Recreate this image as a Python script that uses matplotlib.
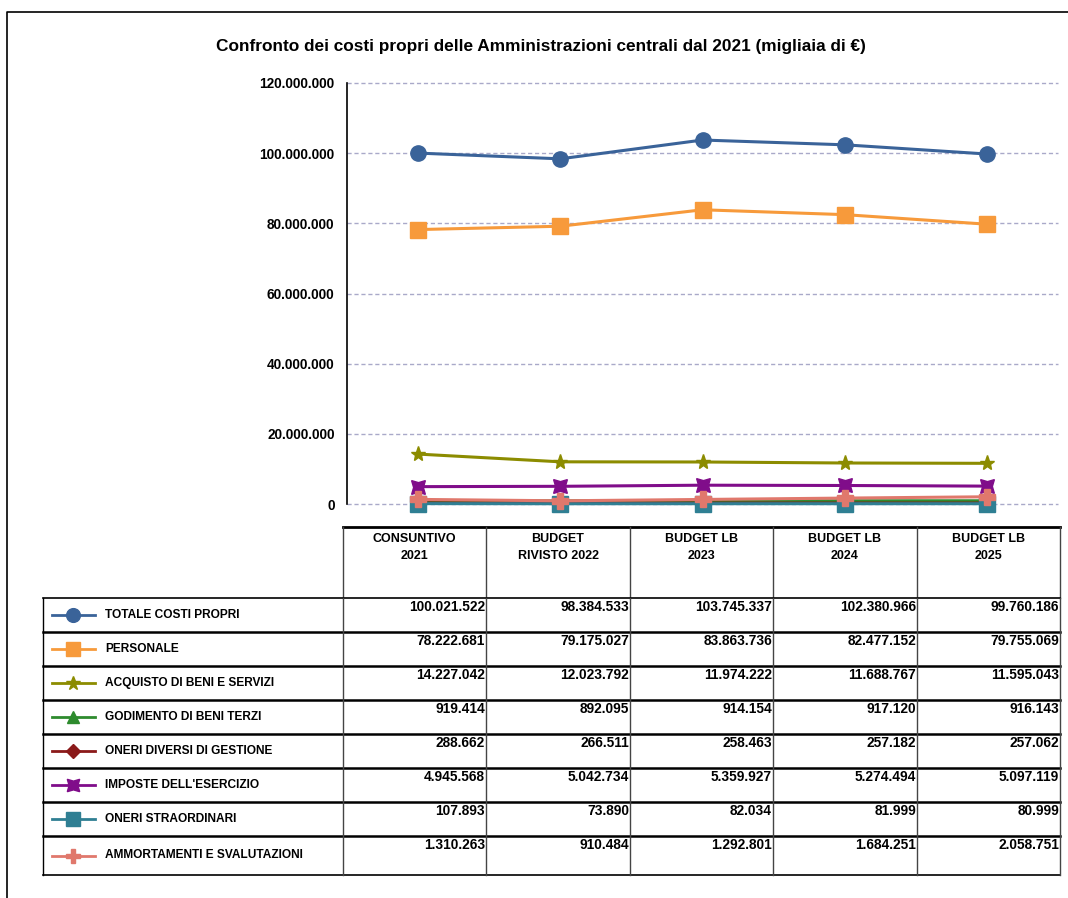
import matplotlib.pyplot as plt

# dati (migliaia di euro)
categorie = ["CONSUNTIVO\n2021", "BUDGET\nRIVISTO 2022", "BUDGET LB\n2023",
             "BUDGET LB\n2024", "BUDGET LB\n2025"]
voci = ["TOTALE COSTI PROPRI", "PERSONALE", "ACQUISTO DI BENI E SERVIZI",
        "GODIMENTO DI BENI TERZI", "ONERI DIVERSI DI GESTIONE",
        "IMPOSTE DELL'ESERCIZIO", "ONERI STRAORDINARI",
        "AMMORTAMENTI E SVALUTAZIONI"]
totale = [100021522, 98384533, 103745337, 102380966, 99760186]
personale = [78222681, 79175027, 83863736, 82477152, 79755069]
acquisto = [14227042, 12023792, 11974222, 11688767, 11595043]
godimento = [919414, 892095, 914154, 917120, 916143]
oneri_diversi = [288662, 266511, 258463, 257182, 257062]
imposte = [4945568, 5042734, 5359927, 5274494, 5097119]
oneri_straord = [107893, 73890, 82034, 81999, 80999]
ammortamenti = [1310263, 910484, 1292801, 1684251, 2058751]
y_ticks = [0, 20000000, 40000000, 60000000, 80000000, 100000000, 120000000]

serie = [totale, personale, acquisto, godimento, oneri_diversi, imposte,
         oneri_straord, ammortamenti]
colori = ["#3A6399", "#F79A3B", "#8C8C00", "#2E8B2E", "#8B1A1A", "#800D8A",
          "#2F7F93", "#E0786C"]
marker = ["o", "s", "*", "^", "D", (4, 1, 45), "s", "P"]
msize = [11, 11, 11, 9, 8, 14, 11, 11]

plt.rcParams['font.family'] = ['Liberation Sans Narrow', 'Liberation Sans', 'DejaVu Sans']
plt.rcParams['font.weight'] = 'bold'


def fmt(v):
    return f"{v:,}".replace(",", ".")


W, H = 1068, 898
fig = plt.figure(figsize=(W / 100, H / 100), dpi=100)

# sfondo in coordinate pixel per cornice e tabella
bg = fig.add_axes([0, 0, 1, 1])
bg.set_xlim(0, W)
bg.set_ylim(H, 0)
bg.axis("off")
bg.plot([7, 7, W], [H, 12, 12], color="black", lw=1.2)
bg.text(541, 46, "Confronto dei costi propri delle Amministrazioni centrali dal 2021 (migliaia di €)",
        ha="center", va="center", fontsize=12.4, fontweight="bold")

# grafico
ax = fig.add_axes([347 / W, 1 - 504 / H, (1058 - 347) / W, (504 - 83) / H])
x = list(range(len(categorie)))
for vals, c, m, ms in zip(serie, colori, marker, msize):
    ax.plot(x, vals, color=c, lw=2.2, marker=m, markersize=ms, markeredgecolor=c,
            zorder=3, clip_on=False)
ax.set_xlim(-0.5, 4.5)
ax.set_ylim(0, 120000000)
ax.set_yticks(y_ticks)
ax.set_yticklabels([fmt(t) for t in y_ticks], fontsize=9.8, fontweight="bold")
ax.set_xticks([])
for s in ["top", "right", "bottom"]:
    ax.spines[s].set_visible(False)
ax.spines["left"].set_linewidth(1.2)
ax.tick_params(axis="y", length=0, pad=9)
ax.grid(axis="y", color="#A9A9C9", lw=1, linestyle=(0, (3, 2)), zorder=0)
ax.set_axisbelow(True)
for gl in ax.get_ygridlines():
    gl.set_clip_on(False)

# tabella
col_x = [343, 486, 630, 773, 917, 1060]
row_y = [598, 632, 666, 700, 734, 768, 802, 836, 875]
bg.plot([343, 1060], [527, 527], color="black", lw=2)
for cx in col_x:
    bg.plot([cx, cx], [527, 598], color="#444444", lw=1)
for i, lab in enumerate(categorie):
    bg.text((col_x[i] + col_x[i + 1]) / 2, 533, lab, ha="center", va="top",
            fontsize=9, fontweight="bold", linespacing=1.6)

for r in range(len(voci)):
    y0, y1 = row_y[r], row_y[r + 1]
    bg.plot([43, 1060], [y0, y0], color="black", lw=1.8 if r > 0 else 1.2)
    yc = (y0 + y1) / 2
    bg.plot([52, 95], [yc, yc], color=colori[r], lw=2)
    bg.plot([73], [yc], color=colori[r], marker=marker[r], markersize=msize[r] * 0.9,
            markeredgecolor=colori[r])
    bg.text(105, yc, voci[r], ha="left", va="center", fontsize=8.6, fontweight="bold")
    for i in range(len(categorie)):
        bg.text(col_x[i + 1] - 1, y0 + 9, fmt(serie[r][i]), ha="right", va="center",
                fontsize=9.9, fontweight="bold")
bg.plot([43, 1060], [875, 875], color="black", lw=1.2)
bg.plot([43, 43], [598, 875], color="black", lw=1)
for cx in col_x:
    bg.plot([cx, cx], [598, 875], color="#444444", lw=1)

fig.savefig("out.png", dpi=100)
